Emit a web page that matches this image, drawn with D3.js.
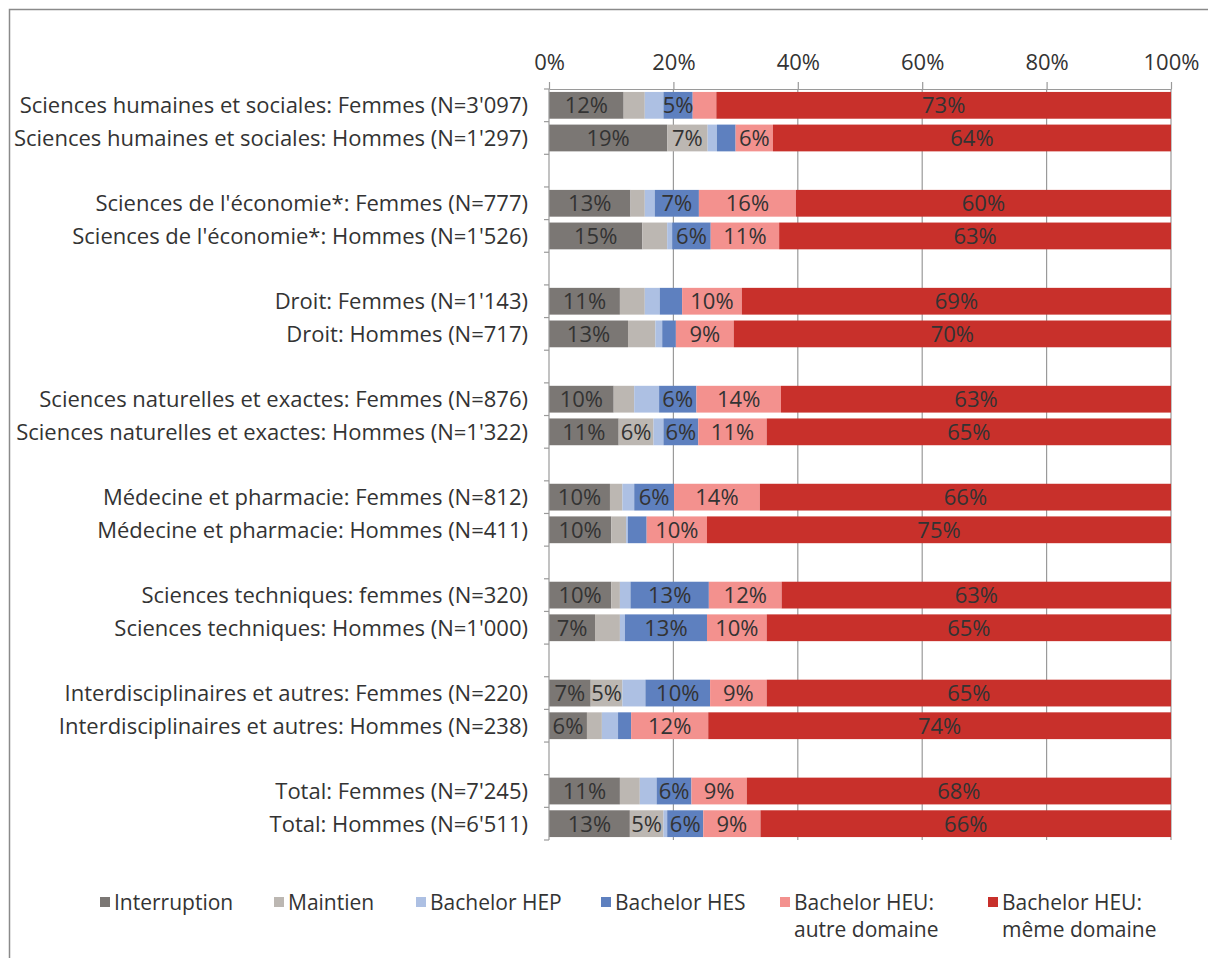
<!DOCTYPE html>
<html>
<head>
<meta charset="utf-8">
<script src="https://cdn.jsdelivr.net/npm/d3@7"></script>
<style>
  body { margin: 0; background: #fff; }
  svg { display: block; font-family: "Open Sans", sans-serif; }
</style>
</head>
<body>
<div id="chart"></div>
<script>
// row labels, two per group (Femmes / Hommes)
const rowLabels = [
  "Sciences humaines et sociales: Femmes (N=3'097)",
  "Sciences humaines et sociales: Hommes (N=1'297)",
  "Sciences de l'économie*: Femmes (N=777)",
  "Sciences de l'économie*: Hommes (N=1'526)",
  "Droit: Femmes (N=1'143)",
  "Droit: Hommes (N=717)",
  "Sciences naturelles et exactes: Femmes (N=876)",
  "Sciences naturelles et exactes: Hommes (N=1'322)",
  "Médecine et pharmacie: Femmes (N=812)",
  "Médecine et pharmacie: Hommes (N=411)",
  "Sciences techniques: femmes (N=320)",
  "Sciences techniques: Hommes (N=1'000)",
  "Interdisciplinaires et autres: Femmes (N=220)",
  "Interdisciplinaires et autres: Hommes (N=238)",
  "Total: Femmes (N=7'245)",
  "Total: Hommes (N=6'511)"
];

const seriesNames = [
  "Interruption",
  "Maintien",
  "Bachelor HEP",
  "Bachelor HES",
  "Bachelor HEU: autre domaine",
  "Bachelor HEU: même domaine"
];

// values in %, one per row
const interruption = [12, 19, 13.1, 15, 11.4, 12.7, 10.4, 11.2, 9.8, 10, 10, 7.4, 6.7, 6.1, 11.4, 13];
const maintien     = [3.4, 6.5, 2.3, 4, 4, 4.4, 3.3, 5.6, 2, 2.4, 1.4, 4, 5.1, 2.4, 3.2, 5.4];
const bachelorHEP  = [3, 1.5, 1.6, 0.8, 2.4, 1.1, 4, 1.6, 1.9, 0.3, 1.7, 0.8, 3.7, 2.6, 2.7, 0.6];
const bachelorHES  = [4.7, 3, 7.1, 6.2, 3.6, 2.2, 6, 5.6, 6.4, 3, 12.6, 13.2, 10.4, 2.1, 5.6, 5.8];
const heuAutre     = [3.8, 6, 15.6, 11, 9.6, 9.3, 13.6, 11, 13.8, 9.7, 11.7, 9.6, 9.1, 12.4, 8.9, 9.2];
const heuMeme      = [73.1, 64, 60.3, 63, 69, 70.3, 62.7, 65, 66.1, 74.6, 62.6, 65, 65, 74.4, 68.2, 66];

const xTicks = [0, 20, 40, 60, 80, 100];

const colors = ["#7b7774", "#bcb7b2", "#adc0e3", "#5e80bf", "#f3918e", "#c8302b"];

const allSeries = [interruption, maintien, bachelorHEP, bachelorHES, heuAutre, heuMeme];

const W = 1208, H = 958;
const margin = { top: 89, left: 549, right: 37, bottom: 118 };

const svg = d3.select("#chart").append("svg")
  .attr("width", W)
  .attr("height", H);

// outer frame
svg.append("rect")
  .attr("x", 9.5).attr("y", 9.5)
  .attr("width", W + 20).attr("height", H + 20)
  .attr("fill", "none")
  .attr("stroke", "#8a8a8a")
  .attr("stroke-width", 1.5);

// rows with a blank spacer after each pair
const rowKeys = [];
rowLabels.forEach((lab, i) => {
  rowKeys.push("r" + i);
  if (i % 2 === 1 && i < rowLabels.length - 1) rowKeys.push("gap" + i);
});

const rows = rowLabels.map((lab, i) => {
  const obj = { key: "r" + i, label: lab };
  seriesNames.forEach((s, j) => (obj[s] = allSeries[j][i]));
  return obj;
});

const x = d3.scaleLinear()
  .domain([0, 100])
  .range([margin.left, W - margin.right]);

const y = d3.scaleBand()
  .domain(rowKeys)
  .range([margin.top, H - margin.bottom])
  .paddingInner(0.18)
  .paddingOuter(0.09);

const stacked = d3.stack().keys(seriesNames)(rows);

// gridlines
svg.append("g")
  .selectAll("line")
  .data(xTicks.slice(1))
  .join("line")
  .attr("x1", d => x(d)).attr("x2", d => x(d))
  .attr("y1", margin.top).attr("y2", H - margin.bottom)
  .attr("stroke", "#9a9a9a")
  .attr("stroke-width", 1.2);

// bars
svg.append("g")
  .selectAll("g")
  .data(stacked)
  .join("g")
  .attr("fill", (d, i) => colors[i])
  .selectAll("rect")
  .data(d => d)
  .join("rect")
  .attr("x", d => x(d[0]))
  .attr("width", d => x(d[1]) - x(d[0]))
  .attr("y", d => y(d.data.key))
  .attr("height", y.bandwidth());

// segment labels
svg.append("g")
  .attr("text-anchor", "middle")
  .attr("font-size", 22)
  .attr("fill", "#333")
  .selectAll("g")
  .data(stacked)
  .join("g")
  .selectAll("text")
  .data(d => d.filter(v => Math.round(v[1] - v[0]) >= 5))
  .join("text")
  .attr("x", d => (x(d[0]) + x(d[1])) / 2)
  .attr("y", d => y(d.data.key) + y.bandwidth() / 2)
  .attr("dy", "0.36em")
  .text(d => Math.round(d[1] - d[0]) + "%");

// top axis
const xAxis = svg.append("g")
  .attr("transform", `translate(0,${margin.top})`)
  .call(d3.axisTop(x).tickValues(xTicks).tickFormat(d => d + "%").tickSize(7).tickSizeOuter(0));
xAxis.select(".domain").attr("stroke", "#9a9a9a").attr("stroke-width", 1.2);
xAxis.selectAll(".tick line").attr("stroke", "#9a9a9a").attr("stroke-width", 1.2);
xAxis.selectAll(".tick text")
  .attr("font-family", "Open Sans, sans-serif")
  .attr("font-size", 22)
  .attr("fill", "#333")
  .attr("y", -19);

// left axis with ticks at every band boundary
const yAxis = svg.append("g");
yAxis.append("line")
  .attr("x1", margin.left).attr("x2", margin.left)
  .attr("y1", margin.top).attr("y2", H - margin.bottom)
  .attr("stroke", "#9a9a9a").attr("stroke-width", 1.2);
yAxis.selectAll("line.tk")
  .data(d3.range(rowKeys.length + 1))
  .join("line")
  .attr("class", "tk")
  .attr("x1", margin.left - 5).attr("x2", margin.left)
  .attr("y1", i => margin.top + i * y.step())
  .attr("y2", i => margin.top + i * y.step())
  .attr("stroke", "#9a9a9a").attr("stroke-width", 1.2);

svg.append("g")
  .attr("text-anchor", "end")
  .attr("font-size", 22)
  .attr("fill", "#333")
  .selectAll("text")
  .data(rows)
  .join("text")
  .attr("x", margin.left - 21)
  .attr("y", d => y(d.key) + y.bandwidth() / 2)
  .attr("dy", "0.36em")
  .text(d => d.label);

// legend
const legendX = [100, 274, 416, 601, 780, 988];
const legend = svg.append("g")
  .attr("transform", `translate(0, ${H - 56})`)
  .attr("font-size", 21)
  .attr("fill", "#333");

seriesNames.forEach((name, i) => {
  const g = legend.append("g").attr("transform", `translate(${legendX[i]},0)`);
  g.append("rect")
    .attr("x", 0).attr("y", -5)
    .attr("width", 10).attr("height", 10)
    .attr("fill", colors[i]);
  const lines = name.includes(":") ? [name.split(": ")[0] + ":", name.split(": ")[1]] : [name];
  g.append("text")
    .attr("x", 14)
    .attr("y", 0)
    .selectAll("tspan")
    .data(lines)
    .join("tspan")
    .attr("x", 14)
    .attr("dy", (d, k) => (k === 0 ? "0.36em" : "1.3em"))
    .text(d => d);
});
</script>
</body>
</html>
